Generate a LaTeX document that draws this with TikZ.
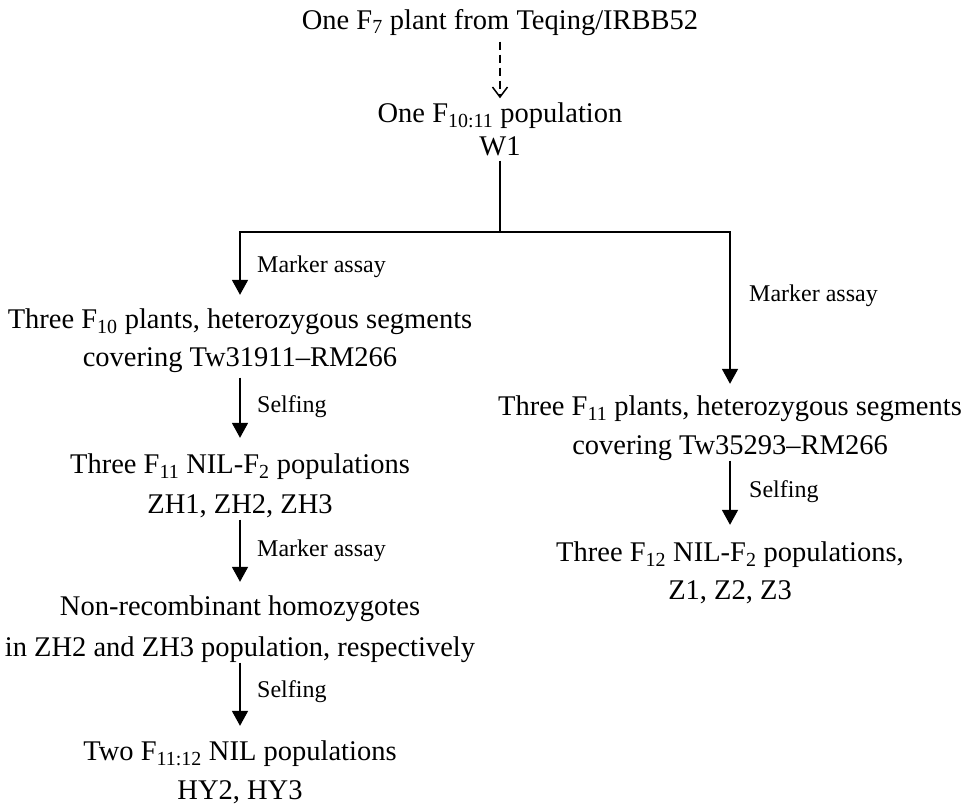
\documentclass[tikz,border=0pt]{standalone}
\usepackage{fontspec}
\setmainfont{Liberation Serif}
\usetikzlibrary{arrows.meta}
\newcommand{\mainsz}{\fontsize{28.5}{33}\selectfont}
\newcommand{\lblsz}{\fontsize{24}{28}\selectfont}
\newcommand{\sbs}[1]{\textsubscript{#1}}
\tikzset{
  txt/.style={font=\mainsz, inner sep=0pt, text height=21pt, text depth=6pt, anchor=center},
  lbl/.style={font=\lblsz, inner sep=0pt, anchor=west},
  conn/.style={line width=1.8pt},
  arr/.style={conn, -{Triangle[width=16pt,length=15pt]}, shorten >=13pt},
  darr/.style={line width=1.5pt, dashed, dash pattern=on 8pt off 5pt, -{Straight Barb[width=15pt,length=10pt]}}
}
\begin{document}
\begin{tikzpicture}[x=1pt,y=-1pt]
\useasboundingbox (0,0) rectangle (963,807);
% top
\node[txt] (top) at (500,22) {One F\sbs{7} plant from Teqing/IRBB52};
\node[txt] (pop) at (500,115) {One F\sbs{10:11} population};
\node[txt] (w1) at (500,148) {W1};
\coordinate (j) at (500,232);
% left column
\node[txt] (het1) at (240,321) {Three F\sbs{10} plants, heterozygous segments};
\node[txt] (cov1) at (240,359) {covering Tw31911--RM266};
\node[txt] (nil1) at (240,466) {Three F\sbs{11} NIL-F\sbs{2} populations};
\node[txt] (zh) at (240,506) {ZH1, ZH2, ZH3};
\node[txt] (nonrec) at (240,608) {Non-recombinant homozygotes};
\node[txt] (resp) at (240,649) {in ZH2 and ZH3 population, respectively};
\node[txt] (two) at (240,753) {Two F\sbs{11:12} NIL populations};
\node[txt] (hy) at (240,792) {HY2, HY3};
% right column
\node[txt] (het2) at (730,408) {Three F\sbs{11} plants, heterozygous segments};
\node[txt] (cov2) at (730,447) {covering Tw35293--RM266};
\node[txt] (nil2) at (730,554) {Three F\sbs{12} NIL-F\sbs{2} populations,};
\node[txt] (z) at (730,592) {Z1, Z2, Z3};
% connectors
\draw[darr, shorten <=6pt, shorten >=3pt] (top.south) -- (pop.north);
\draw[conn, shorten <=-1pt] (w1.south) -- (j);
\draw[arr, shorten >=12.5pt] (j) -| (het1.north);
\draw[arr, shorten >=10.5pt] (j) -| (het2.north);
\draw[arr, shorten <=5pt, shorten >=14.5pt] (cov1.south) -- (nil1.north);
\draw[arr, shorten >=12.5pt] (zh.south) -- (nonrec.north);
\draw[arr, shorten >=13.5pt] (resp.south) -- (two.north);
\draw[arr, shorten >=15.5pt] (cov2.south) -- (nil2.north);
% labels
\node[lbl] (l1) at (257,267) {Marker assay};
\node[lbl] (l2) at (257,407) {Selfing};
\node[lbl] (l3) at (257,551) {Marker assay};
\node[lbl] (l4) at (257,692) {Selfing};
\node[lbl] (l5) at (749,296) {Marker assay};
\node[lbl] (l6) at (749,492) {Selfing};
\end{tikzpicture}
\end{document}
